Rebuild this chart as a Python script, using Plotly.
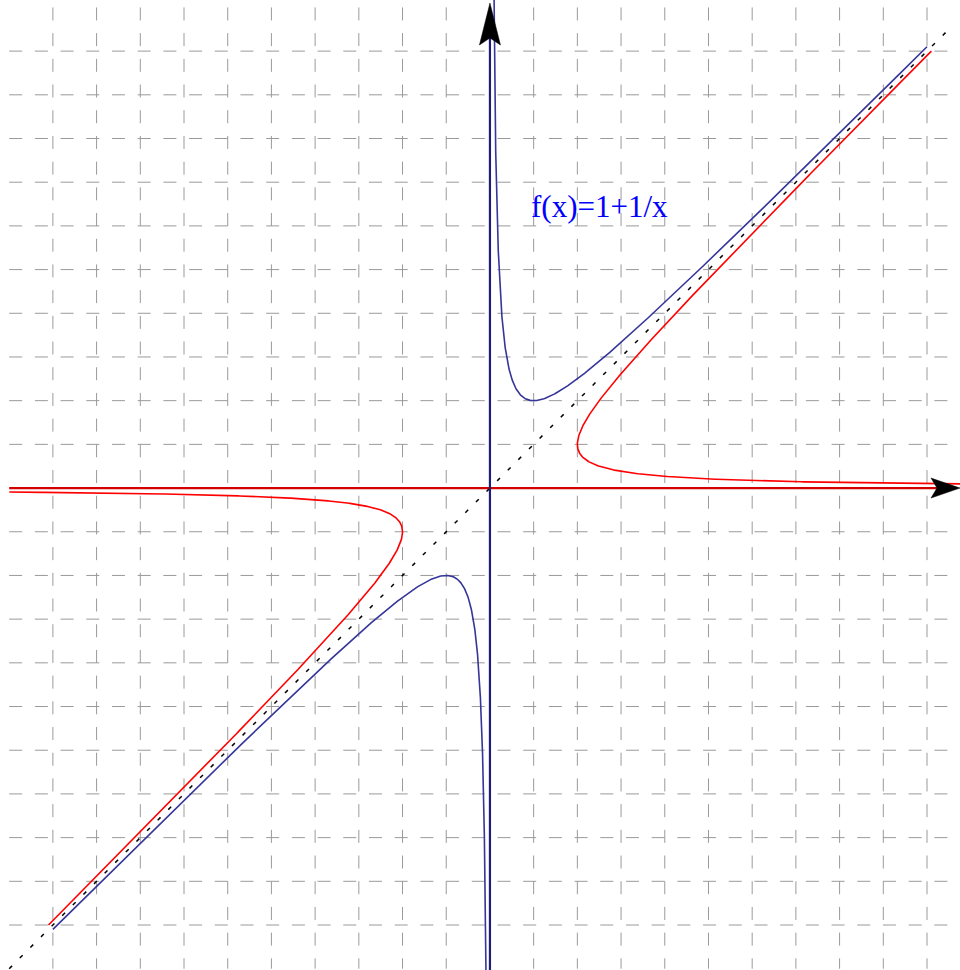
import numpy as np
import plotly.graph_objects as go

# Plot window (data units)
X_RANGE = [-11.21, 10.755]
Y_RANGE = [-11.03, 11.17]
WIDTH, HEIGHT = 960, 970

# Grid positions and extents
GRID_TICKS = [v for v in range(-10, 11) if v != 0]
GRID_EXTENT = [-11, 11]

# Sampling of the function's domain (distance from the asymptote x=0)
NEAR = np.geomspace(0.08, 1.0, 500)
FAR = np.linspace(1.0, 10.0, 500)[1:]
DOMAIN = np.concatenate([NEAR, FAR])
RED_NEAR = np.geomspace(0.0917, 1.0, 500)
RED_DOMAIN = np.concatenate([RED_NEAR, FAR])

LABEL = "f(x)=1+1/x"
LABEL_POS = (2.5, 6.45)


def f(x):
    return x + 1.0 / x


ux = (X_RANGE[1] - X_RANGE[0]) / WIDTH
uy = (Y_RANGE[1] - Y_RANGE[0]) / HEIGHT

fig = go.Figure()

# dashed grid
gx, gy = [], []
for v in GRID_TICKS:
    gx += [GRID_EXTENT[0], GRID_EXTENT[1], None]
    gy += [v, v, None]
for v in GRID_TICKS:
    gx += [v, v, None]
    gy += [GRID_EXTENT[1], GRID_EXTENT[0], None]
fig.add_trace(go.Scatter(x=gx, y=gy, mode="lines", hoverinfo="skip",
                         line=dict(color="#9a9a9a", width=1, dash="13px,12.7px")))

# diagonal y = x
fig.add_trace(go.Scatter(x=[-11, 10.6], y=[-11, 10.6], mode="lines",
                         line=dict(color="black", width=1.5, dash="4px,11px")))

# f and its inverse (mirror in y = x)
bx = np.concatenate([-DOMAIN[::-1], [np.nan], DOMAIN])
by = f(bx)
rt = np.concatenate([-RED_DOMAIN[::-1], [np.nan], RED_DOMAIN])
rx = f(rt)

fig.add_trace(go.Scatter(x=rx, y=rt, mode="lines",
                         line=dict(color="#ff0000", width=1.6)))
fig.add_trace(go.Scatter(x=bx, y=by, mode="lines",
                         line=dict(color="#35359a", width=1.6)))

# coordinate axes
top_tip = Y_RANGE[1] - 3 * uy
right_tip = X_RANGE[1]
fig.add_trace(go.Scatter(x=[GRID_EXTENT[0], right_tip - 10 * ux], y=[0, 0], mode="lines",
                         line=dict(color="#d40000", width=2.2)))
fig.add_trace(go.Scatter(x=[0, 0], y=[Y_RANGE[0], top_tip - 10 * uy], mode="lines",
                         line=dict(color="#1e1e78", width=2.2)))


def arrow_path(tip, direction, length, half, notch):
    tx, ty = tip
    if direction == "up":
        pts = [(tx, ty), (tx - half * ux, ty - length * uy),
               (tx, ty - (length - notch) * uy), (tx + half * ux, ty - length * uy)]
    else:
        pts = [(tx, ty), (tx - length * ux, ty + half * uy),
               (tx - (length - notch) * ux, ty), (tx - length * ux, ty - half * uy)]
    return "M " + " L ".join(f"{x:.4f},{y:.4f}" for x, y in pts) + " Z"


shapes = [
    dict(type="path", xref="x", yref="y", path=arrow_path((0, top_tip), "up", 42, 10.5, 7),
         fillcolor="black", line=dict(color="black", width=0.5)),
    dict(type="path", xref="x", yref="y", path=arrow_path((right_tip, 0), "right", 29, 10, 6),
         fillcolor="black", line=dict(color="black", width=0.5)),
]

fig.add_annotation(x=LABEL_POS[0], y=LABEL_POS[1], text=LABEL, showarrow=False,
                   xanchor="center", yanchor="middle",
                   font=dict(family="Liberation Serif, Times New Roman, serif", size=31, color="#0000ff"))

fig.update_layout(
    width=WIDTH, height=HEIGHT,
    margin=dict(l=0, r=0, t=0, b=0),
    paper_bgcolor="white", plot_bgcolor="white",
    showlegend=False, shapes=shapes,
    xaxis=dict(range=X_RANGE, visible=False, fixedrange=True),
    yaxis=dict(range=Y_RANGE, visible=False, fixedrange=True),
)

fig.write_html("out.html")
